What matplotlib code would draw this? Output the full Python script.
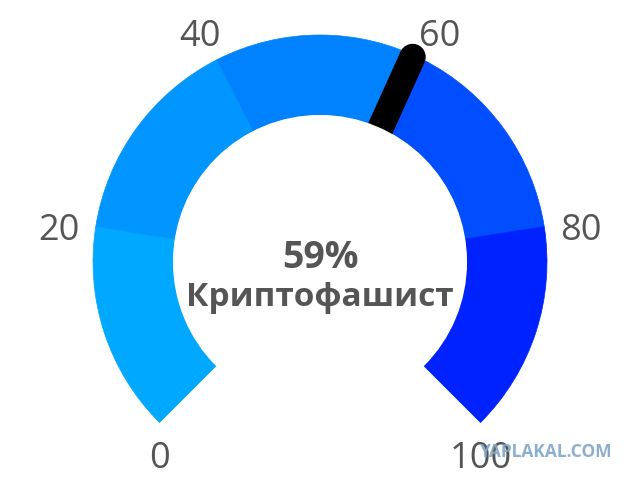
import numpy as np
import matplotlib.pyplot as plt
from matplotlib.patches import Wedge, Circle

# gauge data
bounds = [0, 20, 40, 60, 80, 100]
seg_colors = ['#00a8ff', '#0095ff', '#0082ff', '#004eff', '#0022ff']
tick_values = [0, 20, 40, 60, 80, 100]
value = 59
caption = 'Криптофашист'

plt.rcParams['font.family'] = ['Open Sans', 'DejaVu Sans']

W, H = 640, 482
fig = plt.figure(figsize=(W / 100, H / 100), dpi=100)
ax = fig.add_axes([0, 0, 1, 1])
ax.set_xlim(0, W)
ax.set_ylim(0, H)
ax.set_aspect('equal')
ax.axis('off')

cx, cy = 320, H - 262
r_out, r_in = 227, 147
start, span = 225, 270


def angle(v):
    return start - span * v / 100.0


# coloured bands
for i in range(len(seg_colors)):
    a1 = angle(bounds[i + 1])
    a0 = angle(bounds[i])
    ax.add_patch(Wedge((cx, cy), r_out, a1, a0, width=r_out - r_in,
                       facecolor=seg_colors[i], edgecolor=seg_colors[i], lw=0.5))

# needle
t = np.radians(angle(value))
ax.plot([cx + 120 * np.cos(t), cx + 225 * np.cos(t)],
        [cy + 120 * np.sin(t), cy + 225 * np.sin(t)],
        color='black', lw=19, solid_capstyle='round', zorder=3)
ax.add_patch(Circle((cx, cy), r_in, facecolor='white', edgecolor='none', zorder=4))

# tick labels
for v in tick_values:
    a = np.radians(angle(v))
    if v in (0, 100):
        x = cx + r_out * np.cos(a)
        y = cy + r_out * np.sin(a) - 36
    else:
        x = cx + 264 * np.cos(a)
        y = cy + 264 * np.sin(a) - 10
    ax.text(x, y, str(v), ha='center', va='center', fontsize=26, color='#555555', zorder=5)

# centre text
ax.text(cx, cy - 6, f'{value}%', ha='center', va='baseline', fontsize=27,
        fontweight='bold', color='#555555', zorder=5)
ax.text(cx, cy - 44, caption, ha='center', va='baseline', fontsize=24,
        fontweight='bold', color='#555555', zorder=5)

# watermark
ax.text(546, H - 452, 'YAPLAKAL.COM', ha='center', va='center', fontsize=12.5,
        fontweight='bold', color='#7fa6c8', alpha=0.9, zorder=6)

fig.savefig('out.png', dpi=100, facecolor='white')
